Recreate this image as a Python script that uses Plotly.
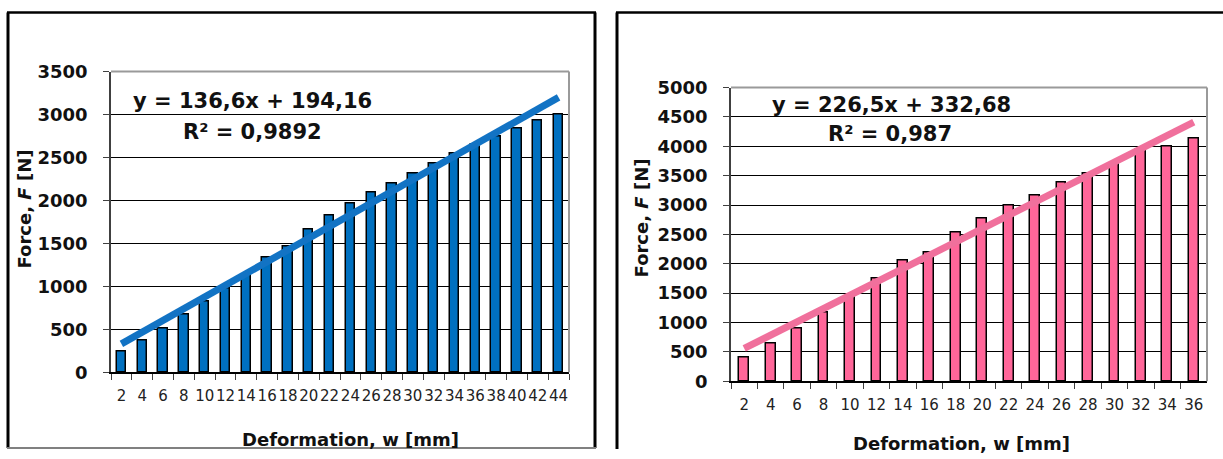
import plotly.graph_objects as go

W, H = 1223, 459

# ---- data ----
left_categories = ["2", "4", "6", "8", "10", "12", "14", "16", "18", "20", "22",
                   "24", "26", "28", "30", "32", "34", "36", "38", "40", "42", "44"]
left_force = [244, 368, 515, 678, 826, 973, 1128, 1337, 1465, 1659, 1822,
              1961, 2093, 2202, 2318, 2434, 2550, 2647, 2744, 2841, 2930, 3004]
left_slope, left_intercept = 136.6, 194.16
left_eq = "y = 136,6x + 194,16"
left_r2 = "R² = 0,9892"

right_categories = ["2", "4", "6", "8", "10", "12", "14", "16", "18", "20",
                    "22", "24", "26", "28", "30", "32", "34", "36"]
right_force = [407, 644, 904, 1169, 1435, 1751, 2056, 2186, 2537, 2768,
               2989, 3164, 3384, 3542, 3712, 3938, 3994, 4124]
right_slope, right_intercept = 226.5, 332.68
right_eq = "y = 226,5x + 332,68"
right_r2 = "R² = 0,987"

x_title = "Deformation, w [mm]"
y_title = "Force, <i>F</i> [N]"

FONT = "DejaVu Sans"
BLUE = "#0070C0"
PINK = "#FF6699"
PINK_LINE = "#F0709C"


def px(x):
    return x / W


def py(y):
    # vertical position, corrected for the way the page is photographed
    y = (y - 11.4) / 0.955
    y = min(max(y, 0), H)
    return 1 - y / H


fig = go.Figure()

# left bars + trendline
fig.add_trace(go.Bar(x=left_categories, y=left_force, width=0.45,
                     marker=dict(color=BLUE, line=dict(color="black", width=1.5)),
                     xaxis="x", yaxis="y", showlegend=False))
n_l = len(left_categories)
fig.add_trace(go.Scatter(x=[left_categories[0], left_categories[-1]],
                         y=[left_slope * 1 + left_intercept, left_slope * n_l + left_intercept],
                         mode="lines", line=dict(color="#1273C4", width=7),
                         xaxis="x", yaxis="y", showlegend=False))

# right bars + trendline
fig.add_trace(go.Bar(x=right_categories, y=right_force, width=0.37,
                     marker=dict(color=PINK, line=dict(color="black", width=1.5)),
                     xaxis="x2", yaxis="y2", showlegend=False))
n_r = len(right_categories)
fig.add_trace(go.Scatter(x=[right_categories[0], right_categories[-1]],
                         y=[right_slope * 1 + right_intercept, right_slope * n_r + right_intercept],
                         mode="lines", line=dict(color=PINK_LINE, width=7),
                         xaxis="x2", yaxis="y2", showlegend=False))

xaxis_common = dict(type="category", tickson="boundaries", ticks="outside", ticklen=6,
                    tickcolor="#404040", tickwidth=1, showline=True, linecolor="black",
                    linewidth=1.5, showgrid=False, tickangle=0, ticklabelstandoff=9,
                    tickfont=dict(family=FONT, size=15, color="#222222"))
yaxis_common = dict(ticks="outside", ticklen=6, tickcolor="#404040", tickwidth=1,
                    showline=True, linecolor="#404040", linewidth=1.5,
                    showgrid=True, gridcolor="black", gridwidth=1.1, dtick=500,
                    zeroline=False, ticklabelstandoff=12,
                    tickfont=dict(family=FONT, size=18, color="#111111", weight="bold"))

fig.update_layout(
    width=W, height=H, margin=dict(l=0, r=0, t=0, b=0),
    paper_bgcolor="white", plot_bgcolor="white", bargap=0,
    xaxis=dict(domain=[px(111), px(569)], anchor="y", **xaxis_common),
    yaxis=dict(domain=[py(373), py(72)], anchor="x", range=[0, 3500], **yaxis_common),
    xaxis2=dict(domain=[px(731), px(1207)], anchor="y2", **xaxis_common),
    yaxis2=dict(domain=[py(382), py(88)], anchor="x2", range=[0, 5000], **yaxis_common),
)

shapes = []
# plot-area top and right borders (grey)
for xa, ya in (("x", "y"), ("x2", "y2")):
    shapes.append(dict(type="line", xref=f"{xa} domain", yref=f"{ya} domain",
                       x0=0, x1=1, y0=1, y1=1, line=dict(color="#9a9a9a", width=2)))
    shapes.append(dict(type="line", xref=f"{xa} domain", yref=f"{ya} domain",
                       x0=1, x1=1, y0=0, y1=1, line=dict(color="#9a9a9a", width=2)))
# outer panel borders
TOP = 1 - 1.5 / H
BOT = 1.0 / H
shapes.append(dict(type="line", xref="paper", yref="paper", x0=px(8), x1=px(8), y0=BOT, y1=TOP,
                   line=dict(color="black", width=3)))
shapes.append(dict(type="line", xref="paper", yref="paper", x0=px(7), x1=px(596), y0=TOP, y1=TOP,
                   line=dict(color="black", width=2.5)))
shapes.append(dict(type="line", xref="paper", yref="paper", x0=px(595), x1=px(595), y0=BOT, y1=TOP,
                   line=dict(color="black", width=3)))
shapes.append(dict(type="line", xref="paper", yref="paper", x0=px(7), x1=px(596), y0=BOT, y1=BOT,
                   line=dict(color="#808080", width=2)))
shapes.append(dict(type="line", xref="paper", yref="paper", x0=px(617), x1=px(617), y0=0, y1=TOP,
                   line=dict(color="black", width=3)))
shapes.append(dict(type="line", xref="paper", yref="paper", x0=px(616), x1=1, y0=TOP, y1=TOP,
                   line=dict(color="black", width=2.5)))
fig.update_layout(shapes=shapes)

ann = []


def text(x, y, s, size, angle=0, bold=True):
    ann.append(dict(xref="paper", yref="paper", x=px(x), y=py(y), text=(f"<b>{s}</b>" if bold else s),
                    showarrow=False, xanchor="center", yanchor="middle", textangle=angle,
                    font=dict(family=FONT, size=size, color="#111111")))


text(252, 101, left_eq, 21)
text(252, 132, left_r2, 21)
text(891, 105, right_eq, 21)
text(890, 134, right_r2, 21)
text(350, 440, x_title, 18)
text(961, 444, x_title, 18)
text(24, 210, y_title, 18, angle=-90)
text(641, 219, y_title, 18, angle=-90)
fig.update_layout(annotations=ann)

fig.write_html("out.html", config={"displayModeBar": False},
               post_script="document.body.style.margin='0';document.body.style.overflow='hidden';")
